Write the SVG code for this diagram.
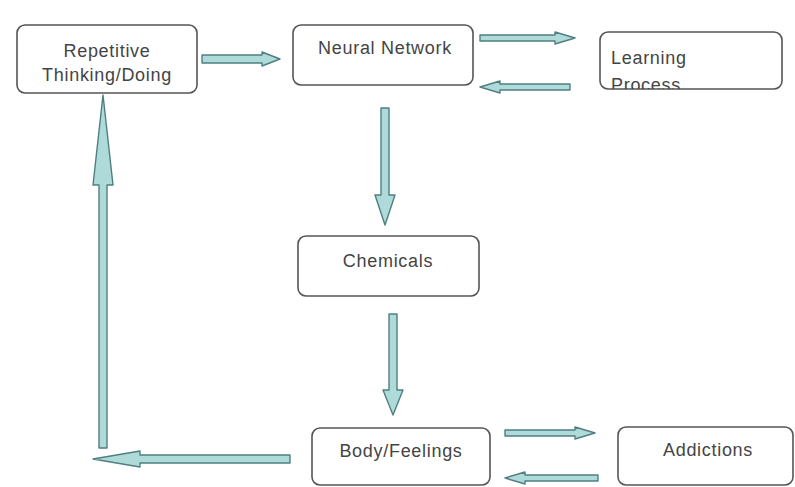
<svg xmlns="http://www.w3.org/2000/svg" width="795" height="487" viewBox="0 0 795 487">
<style>
.box{fill:#fff;stroke:#555;stroke-width:1.6}
.t{font-family:"Liberation Sans",Arial,sans-serif;font-size:18px;letter-spacing:0.7px;fill:#444;text-anchor:middle}
.tl{text-anchor:start}
.arr{fill:#aedada;stroke:#4f7f80;stroke-width:1.4;stroke-linejoin:round}
</style>
<defs>
<clipPath id="clipLearn"><rect x="600" y="32" width="182" height="57"/></clipPath>
</defs>
<rect width="795" height="487" fill="#fff"/>
<g id="connectors">
<polygon class="arr" points="202,55 262,55 262,52 280,59 262,66 262,63 202,63"/>
<polygon class="arr" points="480,35 555,35 555,32 575,38 555,44 555,41 480,41"/>
<polygon class="arr" points="570,84 500,84 500,81 480,87 500,93 500,90 570,90"/>
<polygon class="arr" points="381,108 389,108 389,195 395,195 385,225 375,195 381,195"/>
<polygon class="arr" points="389,314 397,314 397,390 403,390 393,415 383,390 389,390"/>
<polygon class="arr" points="505,430 575,430 575,427 595,433 575,439 575,436 505,436"/>
<polygon class="arr" points="598,475 525,475 525,472 505,478 525,484 525,481 598,481"/>
<polygon class="arr" points="290,455 140,455 140,451 93,459 140,467 140,463 290,463"/>
<polygon class="arr" points="99,448 99,185 93,185 103,95 113,185 107,185 107,448"/>
</g>
<g id="repetitive">
<rect class="box" x="17" y="25" width="180" height="68" rx="8"/>
<text class="t" x="107" y="57">Repetitive</text>
<text class="t" x="107" y="81">Thinking/Doing</text>
</g>
<g id="neural">
<rect class="box" x="293" y="25" width="180" height="60" rx="8"/>
<text class="t" x="385" y="54">Neural Network</text>
</g>
<g id="learning">
<rect class="box" x="600" y="32" width="182" height="57" rx="8"/>
<g clip-path="url(#clipLearn)">
<text class="t tl" x="611" y="64">Learning</text>
<text class="t tl" x="611" y="91">Process</text>
</g>
</g>
<g id="chemicals">
<rect class="box" x="298" y="236" width="181" height="60" rx="8"/>
<text class="t" x="388" y="267">Chemicals</text>
</g>
<g id="body">
<rect class="box" x="312" y="428" width="178" height="57" rx="8"/>
<text class="t" x="401" y="457">Body/Feelings</text>
</g>
<g id="addictions">
<rect class="box" x="618" y="427" width="175" height="58" rx="8"/>
<text class="t" x="708" y="456">Addictions</text>
</g>
</svg>
